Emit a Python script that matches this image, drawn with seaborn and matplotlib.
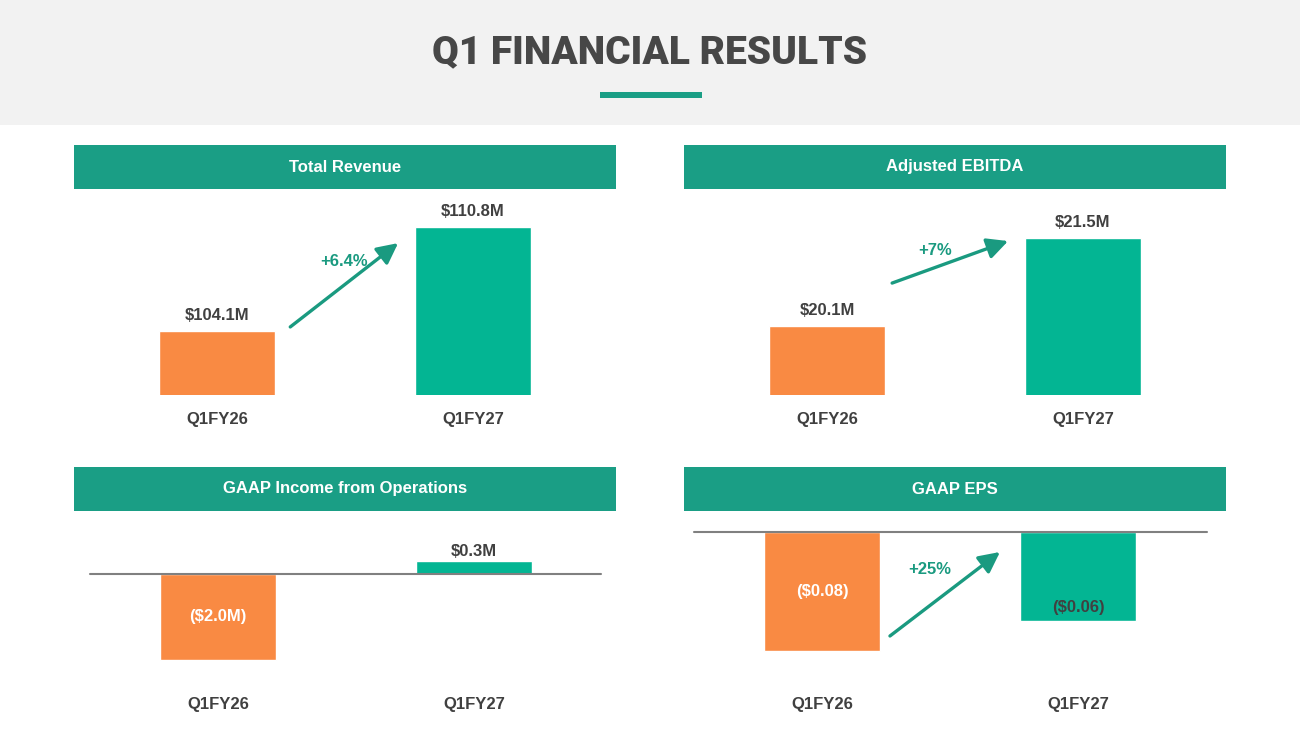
import matplotlib
matplotlib.use("Agg")
import matplotlib.pyplot as plt
import seaborn as sns
from matplotlib.patches import Rectangle

# Data
periods = ["Q1FY26", "Q1FY27"]
revenue = [104.1, 110.8]
revenue_labels = ["$104.1M", "$110.8M"]
ebitda = [20.1, 21.5]
ebitda_labels = ["$20.1M", "$21.5M"]
gaap_ops = [-2.0, 0.3]
gaap_ops_labels = ["($2.0M)", "$0.3M"]
gaap_eps = [-0.08, -0.06]
gaap_eps_labels = ["($0.08)", "($0.06)"]
panel_titles = ["Total Revenue", "Adjusted EBITDA", "GAAP Income from Operations", "GAAP EPS"]
growth_labels = ["+6.4%", "+7%", "+25%"]

ORANGE = "#F98A43"
TEAL = "#03B593"
HEADER = "#1A9E85"
ARROW = "#1A9A80"
DARK = "#404040"

W, H = 1300, 731

sns.set_theme(style="white")
plt.rcParams["font.family"] = ["Liberation Sans", "DejaVu Sans"]
plt.rcParams["font.weight"] = "bold"

fig = plt.figure(figsize=(13, 7.31), dpi=100)
fig.patch.set_facecolor("white")


def box(x0, y0, x1, y1):
    # pixel box -> figure fraction
    return [x0 / W, 1 - y1 / H, (x1 - x0) / W, (y1 - y0) / H]


def rect(x0, y0, x1, y1, color):
    fig.add_artist(Rectangle((x0 / W, 1 - y1 / H), (x1 - x0) / W, (y1 - y0) / H,
                             transform=fig.transFigure, facecolor=color, edgecolor="none", zorder=0))


# title band
rect(0, 0, W, 125, "#F2F2F2")
rect(600, 92, 702, 98, HEADER)
fig.text(0.5, 1 - 53 / H, "Q1 FINANCIAL RESULTS", ha="center", va="center",
         fontsize=28, fontweight=900, family=["Roboto", "Liberation Sans"], color="#474747")

# header bars
headers = [(74, 145, 616, 189), (684, 145, 1226, 189), (74, 467, 616, 511), (684, 467, 1226, 511)]
for (x0, y0, x1, y1), t in zip(headers, panel_titles):
    rect(x0, y0, x1, y1, HEADER)
    fig.text((x0 + x1) / 2 / W, 1 - (y0 + y1) / 2 / H, t, ha="center", va="center",
             fontsize=12, fontweight="bold", color="white")


def panel(pix, values, labels, ylim, xlim, label_pos, zero_line=None, arrow=None, growth=None):
    ax = fig.add_axes(box(*pix))
    sns.barplot(x=periods, y=values, hue=periods, palette=[ORANGE, TEAL], legend=False,
                width=0.453, saturation=1, ax=ax)
    ax.set_ylim(*ylim)
    ax.set_xlim(*xlim)
    ax.set_facecolor("none")
    for s in ax.spines.values():
        s.set_visible(False)
    ax.set_yticks([])
    ax.set_ylabel("")
    ax.tick_params(axis="x", length=0, pad=12, labelsize=12, labelcolor=DARK)
    for lab in ax.get_xticklabels():
        lab.set_fontweight("bold")
    if zero_line is not None:
        ax.axhline(0, xmin=zero_line[0], xmax=zero_line[1], color="#808080", lw=1.5, zorder=3)
    for i, (v, lab, pos) in enumerate(zip(values, labels, label_pos)):
        if pos == "above":
            ax.annotate(lab, (i, v), xytext=(0, 11), textcoords="offset points", ha="center",
                        va="center", fontsize=12, fontweight="bold", color=DARK)
        elif pos == "above_tight":
            ax.annotate(lab, (i, v), xytext=(0, 7), textcoords="offset points", ha="center",
                        va="center", fontsize=12, fontweight="bold", color=DARK)
        elif pos == "center":
            ax.text(i, v / 2, lab, ha="center", va="center", fontsize=12,
                    fontweight="bold", color="white")
        elif pos == "inside_end":
            ax.annotate(lab, (i, v), xytext=(0, 10), textcoords="offset points", ha="center",
                        va="center", fontsize=12, fontweight="bold", color=DARK)
    if arrow is not None:
        start, end, tpos = arrow
        ax.annotate("", xy=end, xytext=start, xycoords="axes fraction",
                    arrowprops=dict(arrowstyle="-|>,head_length=0.9,head_width=0.45",
                                    lw=2.4, color=ARROW, shrinkA=0, shrinkB=0, mutation_scale=14))
        ax.text(tpos[0], tpos[1], growth, transform=ax.transAxes, ha="center", va="center",
                fontsize=12, fontweight="bold", color=ARROW)
    return ax


# Total Revenue: baseline 100 at the axes bottom
panel((74, 190, 616, 395), revenue, revenue_labels, (100, 100 + 205 / 15.6), (-0.559, 1.559),
      ["above", "above"], arrow=((0.399, 0.332), (0.598, 0.741), (0.498, 0.649)),
      growth=growth_labels[0])

# Adjusted EBITDA: baseline 19
panel((684, 190, 1226, 395), ebitda, ebitda_labels, (19, 19 + 205 / 62.7), (-0.559, 1.559),
      ["above", "above"], arrow=((0.384, 0.546), (0.598, 0.751), (0.463, 0.707)),
      growth=growth_labels[1])

# GAAP Income from Operations
panel((74, 512, 616, 680), gaap_ops, gaap_ops_labels, (-106 / 43, 62 / 43), (-0.563, 1.555),
      ["center", "above_tight"], zero_line=(0.03, 0.972))

# GAAP EPS
panel((684, 512, 1226, 680), gaap_eps, gaap_eps_labels, (-148 / 1487, 20 / 1487), (-0.539, 1.578),
      ["center", "inside_end"], zero_line=(0.018, 0.965),
      arrow=((0.380, 0.262), (0.583, 0.762), (0.454, 0.655)), growth=growth_labels[2])

fig.savefig("out.png", dpi=100, facecolor="white")
